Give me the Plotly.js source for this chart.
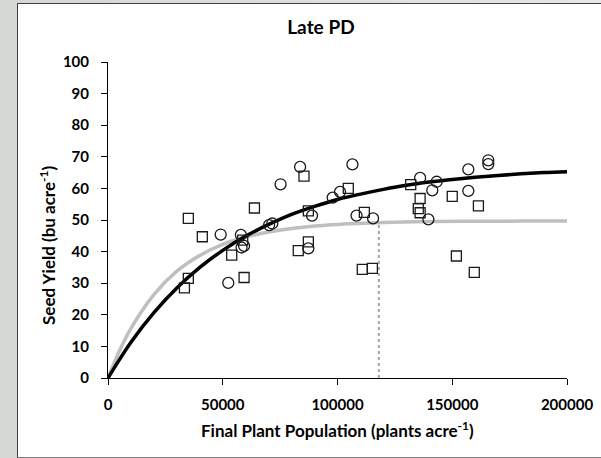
<!DOCTYPE html>
<html>
<head>
<meta charset="utf-8">
<script src="https://cdn.plot.ly/plotly-3.0.1.min.js"></script>
<style>
  html, body { margin: 0; padding: 0; width: 601px; height: 458px; overflow: hidden;
    background: linear-gradient(90deg, #d3d8d4 0%, #e4e7e4 100%); }
  #frame { position: absolute; left: 17px; top: 3px; width: 600px; height: 453px;
    background: #ffffff; border: 1px solid #7f7f7f; border-left-color: #404040; border-top-color: #404040; }
  #chart { position: absolute; left: 0; top: 0; width: 601px; height: 458px; }
</style>
</head>
<body>
<div id="frame"></div>
<div id="chart"></div>
<script>
// Circle series (final plant population, seed yield)
const circleX = [49100, 52400, 57900, 58200, 59300, 70200, 71600, 75200, 83700, 88900, 87300, 97900, 101100, 106500, 108300, 115500, 136000, 143200, 141300, 139600, 157000, 157000, 165700, 165700];
const circleY = [45.4, 30.1, 45.3, 41.3, 41.8, 48.4, 48.9, 61.3, 66.8, 51.4, 41.0, 57.1, 58.9, 67.6, 51.4, 50.5, 63.3, 62.1, 59.4, 50.2, 66.0, 59.2, 68.9, 67.7];

// Square series
const squareX = [35000, 41100, 63800, 53900, 35000, 33300, 59300, 58700, 85400, 104700, 87300, 111700, 87300, 82900, 110800, 115200, 131900, 136000, 135200, 136000, 150000, 161400, 151800, 159600];
const squareY = [50.5, 44.7, 53.8, 38.9, 31.5, 28.5, 31.8, 43.6, 63.9, 60.0, 52.9, 52.4, 43.1, 40.3, 34.4, 34.7, 61.2, 56.8, 53.6, 52.3, 57.5, 54.5, 38.6, 33.4];

// Fitted response curves
const blackCurveX = [0, 10000, 20000, 30000, 40000, 50000, 60000, 70000, 80000, 90000, 100000, 110000, 120000, 130000, 140000, 150000, 160000, 170000, 180000, 190000, 200000];
const blackCurveY = [0, 11.3, 20.7, 28.5, 35.0, 40.4, 44.9, 48.6, 51.8, 54.3, 56.5, 58.2, 59.7, 61.0, 62.0, 62.8, 63.5, 64.1, 64.6, 65.0, 65.3];

const grayCurveX = [0, 5000, 10000, 20000, 30000, 40000, 50000, 60000, 70000, 80000, 90000, 100000, 120000, 140000, 160000, 180000, 200000];
const grayCurveY = [0, 8.6, 15.7, 26.4, 33.8, 38.8, 42.3, 44.6, 46.2, 47.3, 48.1, 48.6, 49.2, 49.5, 49.6, 49.65, 49.7];

// Dotted reference line at the plateau join point
const dropX = [118000, 118000];
const dropY = [0, 49.2];

const xTicks = [0, 50000, 100000, 150000, 200000];
const yTicks = [0, 10, 20, 30, 40, 50, 60, 70, 80, 90, 100];

const FONT = 'Lato, "Open Sans", sans-serif';

const traces = [
  { x: dropX, y: dropY, mode: 'lines', line: { color: '#a6a6a6', width: 2, dash: 'dot' }, hoverinfo: 'skip' },
  { x: grayCurveX, y: grayCurveY, mode: 'lines', line: { color: '#bfbfbf', width: 3.5, shape: 'spline' } },
  { x: blackCurveX, y: blackCurveY, mode: 'lines', line: { color: '#000000', width: 3.5, shape: 'spline' } },
  { x: circleX, y: circleY, mode: 'markers',
    marker: { symbol: 'circle-open', size: 11, color: '#1a1a1a', line: { width: 1.3, color: '#1a1a1a' } } },
  { x: squareX, y: squareY, mode: 'markers',
    marker: { symbol: 'square-open', size: 10, color: '#1a1a1a', line: { width: 1.3, color: '#1a1a1a' } } }
];

const layout = {
  width: 601, height: 458,
  margin: { l: 108, r: 34, t: 62, b: 80 },
  paper_bgcolor: 'rgba(0,0,0,0)',
  plot_bgcolor: 'rgba(0,0,0,0)',
  showlegend: false,
  font: { family: FONT, color: '#000000' },
  title: { text: 'Late PD', font: { family: FONT, size: 19, weight: 'bold', color: '#000' },
    xref: 'container', x: 0.534, xanchor: 'center', yref: 'container', y: 0.94, yanchor: 'middle' },
  xaxis: {
    range: [0, 200000], tickvals: xTicks, ticktext: xTicks.map(String),
    showgrid: false, zeroline: false, showline: true, linecolor: '#000', linewidth: 1,
    ticks: 'outside', ticklen: 6, tickcolor: '#000', tickwidth: 1,
    tickfont: { family: FONT, size: 15, weight: 'bold', color: '#000' },
    ticklabelstandoff: 7
  },
  yaxis: {
    range: [0, 100], tickvals: yTicks, ticktext: yTicks.map(String),
    showgrid: false, zeroline: false, showline: true, linecolor: '#000', linewidth: 1,
    ticks: 'outside', ticklen: 6, tickcolor: '#000', tickwidth: 1,
    tickfont: { family: FONT, size: 15, weight: 'bold', color: '#000' },
    ticklabelstandoff: 9
  },
  annotations: [
    { text: 'Seed Yield (bu acre<sup>-1</sup>)', xref: 'paper', yref: 'paper', x: -0.1306, y: 0.418,
      xanchor: 'center', yanchor: 'middle', textangle: -90, showarrow: false,
      font: { family: FONT, size: 17, weight: 'bold', color: '#000' } },
    { text: 'Final Plant Population (plants acre<sup>-1</sup>)', xref: 'paper', yref: 'paper', x: 0.5, y: -0.163,
      xanchor: 'center', yanchor: 'middle', showarrow: false,
      font: { family: FONT, size: 17, weight: 'bold', color: '#000' } }
  ]
};

Plotly.newPlot('chart', traces, layout, { displayModeBar: false, staticPlot: true });
</script>
</body>
</html>
